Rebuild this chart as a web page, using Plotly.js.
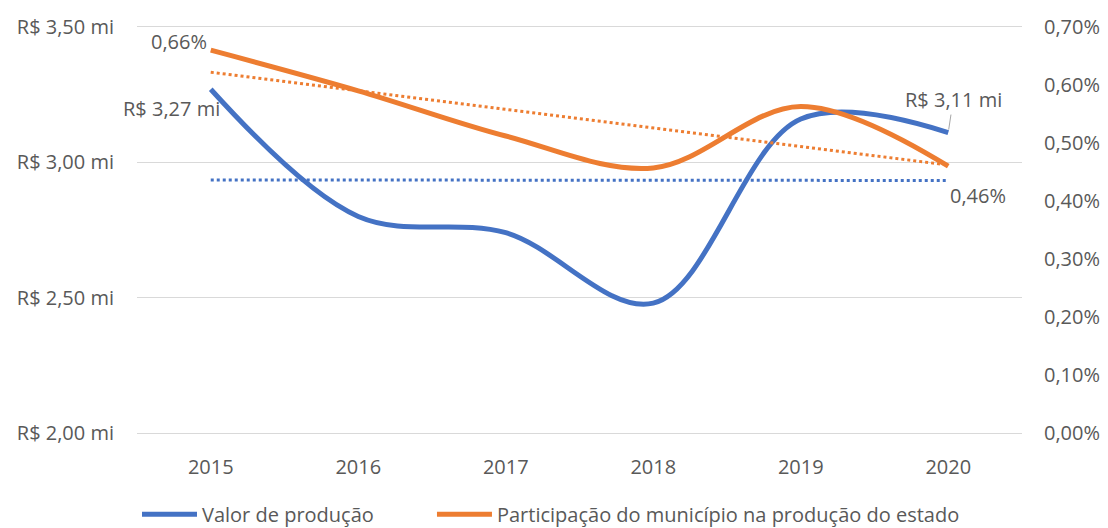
<!DOCTYPE html>
<html>
<head>
<meta charset="utf-8">
<script src="https://cdn.plot.ly/plotly-3.0.1.min.js"></script>
<style>html,body{margin:0;padding:0;background:#fff;}#chart{width:1108px;height:528px;}</style>
</head>
<body>
<div id="chart"></div>
<script>
const years = [2015, 2016, 2017, 2018, 2019, 2020];
const valorProducao = [3.27, 2.80, 2.74, 2.48, 3.16, 3.11];
const participacao = [0.0066, 0.0059, 0.00512, 0.00457, 0.00563, 0.0046];
const trendValor = [2.935, 2.933];
const trendPart = [0.00622, 0.00462];
const trendYears = [2015, 2020];
const seriesNames = ['Valor de produção', 'Participação do município na produção do estado'];

const blue = '#4472C4', orange = '#ED7D31', txt = '#595959';
const fontFam = '"Open Sans", "Noto Sans", sans-serif';

const traces = [
  {x: trendYears, y: trendValor, mode: 'lines', line: {color: blue, width: 3, dash: 'dot'}, showlegend: false, hoverinfo: 'skip'},
  {x: trendYears, y: trendPart, yaxis: 'y2', mode: 'lines', line: {color: orange, width: 3, dash: 'dot'}, showlegend: false, hoverinfo: 'skip'},
  {x: years, y: valorProducao, name: seriesNames[0], mode: 'lines', legend: 'legend', line: {color: blue, width: 5, shape: 'spline', smoothing: 1}},
  {x: years, y: participacao, name: seriesNames[1], yaxis: 'y2', mode: 'lines', legend: 'legend2', line: {color: orange, width: 5, shape: 'spline', smoothing: 1}}
];

const fmtPct = v => (v * 100).toFixed(2).replace('.', ',') + '%';
const fmtR = v => 'R$ ' + v.toFixed(2).replace('.', ',') + ' mi';

const annotations = [
  {x: years[0], y: participacao[0], yref: 'y2', text: fmtPct(participacao[0]), showarrow: false, xanchor: 'right', yanchor: 'middle', xshift: -2, yshift: 9},
  {x: years[0], y: valorProducao[0], yref: 'y', text: fmtR(valorProducao[0]), showarrow: false, xanchor: 'center', yanchor: 'middle', xshift: -39, yshift: -19},
  {x: years[5], y: valorProducao[5], yref: 'y', text: fmtR(valorProducao[5]), showarrow: true, arrowhead: 0, arrowwidth: 1, arrowcolor: '#a6a6a6', standoff: 3, ax: 5, ay: -33},
  {x: years[5], y: participacao[5], yref: 'y2', text: fmtPct(participacao[5]), showarrow: false, xanchor: 'center', yanchor: 'middle', xshift: 30, yshift: -29}
].map(a => Object.assign({xref: 'x', font: {family: fontFam, size: 20, color: txt}}, a));

const legendBase = {orientation: 'h', xanchor: 'left', y: -0.2, yanchor: 'middle', itemwidth: 55, font: {family: fontFam, size: 20, color: txt}, bgcolor: 'rgba(0,0,0,0)'};

const layout = {
  width: 1108, height: 528,
  margin: {l: 137, r: 86, t: 27, b: 95, autoexpand: false},
  paper_bgcolor: '#fff', plot_bgcolor: '#fff',
  separators: ',.',
  font: {family: fontFam, size: 20, color: txt},
  showlegend: true,
  legend: Object.assign({x: 0.0}, legendBase),
  legend2: Object.assign({x: 0.3333}, legendBase),
  xaxis: {
    range: [2014.5, 2020.5], tickmode: 'array', tickvals: years, ticktext: years.map(String),
    showgrid: false, zeroline: false, showline: true, mirror: true, linecolor: '#d9d9d9', linewidth: 1,
    ticks: '', ticklabelstandoff: 16, fixedrange: true,
    tickfont: {family: fontFam, size: 20, color: txt}
  },
  yaxis: {
    range: [2, 3.5], tickmode: 'linear', tick0: 2, dtick: 0.5, tickformat: '.2f',
    tickprefix: 'R$ ', ticksuffix: ' mi', showgrid: true, gridcolor: '#d9d9d9', gridwidth: 1,
    zeroline: false, showline: false, ticks: '', ticklabelstandoff: 22,
    tickfont: {family: fontFam, size: 20, color: txt}
  },
  yaxis2: {
    range: [0, 0.007], overlaying: 'y', side: 'right', tickmode: 'linear', tick0: 0, dtick: 0.001,
    tickformat: '.2%', showgrid: false, zeroline: false, showline: false, ticks: '', ticklabelstandoff: 21,
    tickfont: {family: fontFam, size: 20, color: txt}
  },
  annotations: annotations
};

Plotly.newPlot('chart', traces, layout, {displayModeBar: false, staticPlot: true});
</script>
</body>
</html>
